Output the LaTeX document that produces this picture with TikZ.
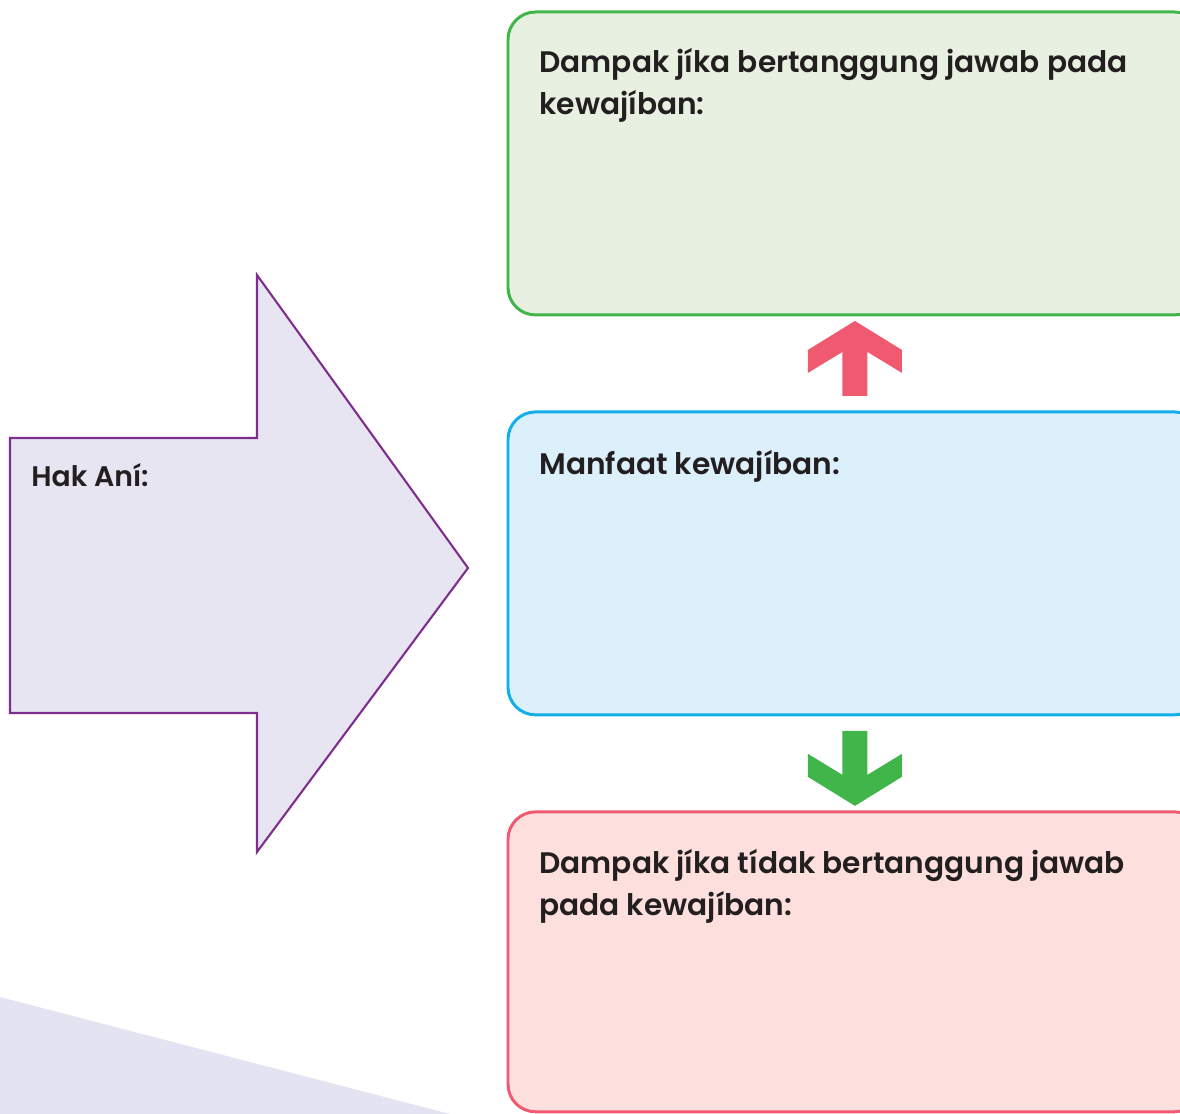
\documentclass[tikz,border=0pt]{standalone}
\usepackage{fontspec}
\setmainfont{Poppins}[BoldFont={Poppins SemiBold}]
\usetikzlibrary{positioning,calc}

\definecolor{hijauGaris}{HTML}{40B54A}
\definecolor{hijauIsi}{HTML}{E8F1E1}
\definecolor{biruGaris}{HTML}{12AEEA}
\definecolor{biruIsi}{HTML}{DBF0FB}
\definecolor{merahGaris}{HTML}{EF5A70}
\definecolor{merahIsi}{HTML}{FDE0DE}
\definecolor{unguGaris}{HTML}{7E2F8E}
\definecolor{unguIsi}{HTML}{E7E5F2}
\definecolor{latar}{HTML}{E4E3F1}
\definecolor{teks}{HTML}{231F20}

\tikzset{
  kotak/.style={draw, rounded corners=0.55cm, line width=1.7pt, outer sep=0pt,
    minimum width=13.88cm, minimum height=6.06cm},
  judul/.style={text=teks, inner sep=0pt, align=left, anchor=base west,
    font={\fontsize{16.9}{24}\selectfont\bfseries}},
  panah/.pic={
    \fill[#1] (0,-42.5) -- (47,-13.5) -- (47,9.5) -- (12.5,-11.5) -- (12.5,32.5)
      -- (-12.5,32.5) -- (-12.5,-11.5) -- (-47,9.5) -- (-47,-13.5) -- cycle;
  }
}

\begin{document}
\begin{tikzpicture}[x=0.02cm, y=-0.02cm]
	\useasboundingbox (0,0) rectangle (1180,1114);
	\clip (0,0) rectangle (1180,1114);
	
	% latar bawah kiri
	\fill[latar] (0,997) -- (450,1114) -- (0,1114) -- cycle;
	
	% panah besar hak
	\draw[unguGaris, fill=unguIsi, line width=1.2pt, line join=miter]
	  (10,438) -- (257,438) -- (257,275) -- (468,568) -- (257,852) -- (257,713) -- (10,713) -- cycle;
	\node[judul, font={\fontsize{16.1}{20}\selectfont\bfseries}] (hak) at (31,487) {Hak Aní:};
	
	% tiga kotak
	\node[kotak, draw=hijauGaris, fill=hijauIsi, anchor=north west] (dampak) at (508,12) {};
	\node[kotak, draw=biruGaris, fill=biruIsi, below=1.94cm of dampak] (manfaat) {};
	\node[kotak, draw=merahGaris, fill=merahIsi, below=1.94cm of manfaat, minimum height=6cm] (dampakTidak) {};
	
	% base = baris terakhir
	\node[judul] (tDampak) at ($(dampak.north west)+(31,103)$) {Dampak jíka bertanggung jawab pada\\kewajíban:};
	\node[judul] (tManfaat) at ($(manfaat.north west)+(31,63)$) {Manfaat kewajíban:};
	\node[judul] (tDampakTidak) at ($(dampakTidak.north west)+(31,104)$) {Dampak jíka tídak bertanggung jawab\\pada kewajíban:};
	
	% panah antar kotak
	\pic at ($(dampak.south)!0.5!(manfaat.north)$) {panah=merahGaris};
	\pic[rotate=180] at ($(manfaat.south)!0.5!(dampakTidak.north)$) {panah=hijauGaris};
\end{tikzpicture}
\end{document}
